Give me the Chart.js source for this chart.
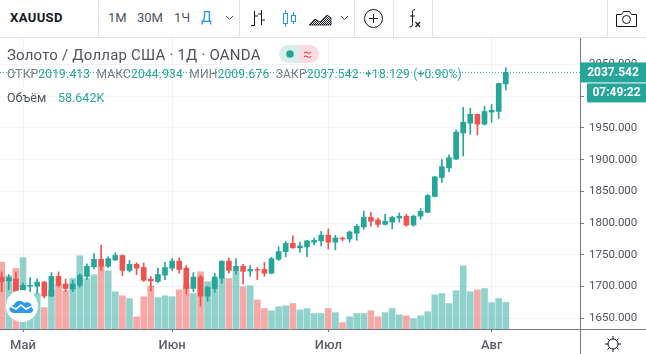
<!DOCTYPE html>
<html>
<head>
<meta charset="utf-8">
<script src="https://cdn.jsdelivr.net/npm/chart.js@4"></script>
<style>
html, body { margin: 0; padding: 0; background: #fff; overflow: hidden; }
#wrap { position: relative; width: 646px; height: 354px; font-family: Roboto, sans-serif; color: #50535e; }
#chart { position: absolute; left: 0; top: 0; }
#top { position: absolute; left: 0; top: 0; width: 646px; height: 37px; border-bottom: 1px solid #e0e3eb; background: #fff; }
.sep { position: absolute; top: 0; width: 1px; height: 37px; background: #e0e3eb; }
.t { position: absolute; white-space: pre; }
#top svg, #wrap > svg { position: absolute; }
.g { color: #787b86; }
.v { color: #26a69a; }
</style>
</head>
<body>
<div id="wrap">
  <canvas id="chart" width="646" height="354"></canvas>

  <div id="top">
    <div class="t" style="left:10px;top:10px;font-size:13px;font-weight:700;color:#131722;letter-spacing:.4px">XAUUSD</div>
    <div class="sep" style="left:98px"></div>
    <div class="t" style="left:108px;top:10px;font-size:13px">1М</div>
    <div class="t" style="left:137px;top:10px;font-size:13px">30М</div>
    <div class="t" style="left:174px;top:10px;font-size:13px">1Ч</div>
    <div class="t" style="left:201px;top:9px;font-size:14px;color:#2196f3">Д</div>
    <svg style="left:225px;top:15px" width="9" height="6"><path d="M1 1l3.5 3.5L8 1" fill="none" stroke="#50535e"/></svg>
    <div class="sep" style="left:239px"></div>
    <svg style="left:249px;top:9px" width="18" height="19"><path d="M5.5 2v15M2 16.500h3.500M5.500 7H9M12.500 1v15M9 5h3.500M12.500 11H16" fill="none" stroke="#131722"/></svg>
    <svg style="left:280px;top:9px" width="18" height="19"><path d="M5.500 1v3M5.500 15v3M13.500 3v3M13.500 12v3" stroke="#2196f3"/><rect x="3.500" y="4.500" width="4" height="10" fill="none" stroke="#2196f3"/><rect x="11.500" y="6.500" width="4" height="6" fill="none" stroke="#2196f3"/></svg>
    <svg style="left:308px;top:12px" width="24" height="14">
      <defs><pattern id="hatch" width="2" height="2" patternUnits="userSpaceOnUse"><rect width="1" height="1" fill="#131722"/><rect x="1" y="1" width="1" height="1" fill="#131722"/></pattern></defs>
      <path d="M1 13l6-6 5 3 7-7 4 3v7z" fill="url(#hatch)" stroke="#131722" stroke-width=".8"/>
    </svg>
    <svg style="left:340px;top:15px" width="9" height="6"><path d="M1 1l3.500 3.500L8 1" fill="none" stroke="#50535e"/></svg>
    <div class="sep" style="left:354px"></div>
    <svg style="left:363px;top:8px" width="21" height="21"><circle cx="10.500" cy="10.500" r="9" fill="none" stroke="#131722"/><path d="M10.500 6v9M6 10.500h9" stroke="#131722"/></svg>
    <div class="sep" style="left:393px"></div>
    <svg style="left:405px;top:8px" width="19" height="21"><path d="M10 1.500c-2.500 0-2.500 2-2.500 4v10c0 2-.5 3.500-3 3.500M5 8h5" fill="none" stroke="#131722"/><path d="M10.500 14l4.500 5M15 14l-4.500 5" stroke="#131722" stroke-width="1.200"/></svg>
    <div class="sep" style="left:432px"></div>
    <div class="sep" style="left:607px"></div>
    <svg style="left:615px;top:9px" width="23" height="19"><path d="M1.500 5.500h5l2-3h6l2 3h5v12h-20z" fill="none" stroke="#131722" stroke-linejoin="round"/><circle cx="11.500" cy="10.500" r="4" fill="none" stroke="#131722"/></svg>
  </div>

  <div class="t" style="left:7px;top:46px;font-size:15px;letter-spacing:.2px">Золото / Доллар США · 1Д · OANDA</div>
  <svg style="left:279px;top:45px" width="40" height="18">
    <path d="M9 0h11v18H9a9 9 0 0 1 0-18z" fill="#d7eeeb"/><path d="M20 0h11a9 9 0 0 1 0 18H20z" fill="#fbdbe4"/>
    <circle cx="11" cy="9" r="3.800" fill="#26a69a"/>
    <path d="M25 8c1.500-2 3-.5 4 0s2.500 0 3-1M25 12c1.500-2 3-.5 4 0s2.500 0 3-1" fill="none" stroke="#ef5350" stroke-width="1.200"/>
  </svg>
  <div class="t" style="left:7px;top:67px;font-size:12px;letter-spacing:.19px"><span class="g">ОТКР</span><span class="v">2019.413</span><span class="g">  МАКС</span><span class="v">2044.934</span><span class="g">  МИН</span><span class="v">2009.676</span><span class="g">  ЗАКР</span><span class="v">2037.542  +18.129 (+0.90%)</span></div>
  <div class="t" style="left:7px;top:90px;font-size:12.5px"><span>Объём</span></div>
  <div class="t v" style="left:58px;top:90px;font-size:12.5px">58.642K</div>

  <svg style="left:5px;top:289px" width="34" height="34">
    <circle cx="17" cy="17" r="16" fill="#fff"/>
    <path d="M6 23c-3-3-1-7 3-7 1-4 7-6 10-2 4-2 9 1 8 5 2 1 1 5-2 5H8z" fill="#2e9be6"/>
    <path d="M5 17l6 3 5-4 5 4 6-3" fill="none" stroke="#fff" stroke-width="1.600"/>
  </svg>
  <svg style="left:604px;top:335px" width="18" height="18">
    <circle cx="9" cy="9" r="5" fill="none" stroke="#131722"/>
    <path d="M9 1v3M9 14v3M1 9h3M14 9h3M3.500 3.500l2 2M12.500 12.500l2 2M3.500 14.500l2-2M12.500 5.500l2-2" stroke="#131722"/>
  </svg>
</div>

<script>
'use strict';

var opens = [1715,1709,1712,1694,1700.5,1700.5,1707,1685,1716,1704,1696,1702,1716,1731,1743,1732,1742,1749,1725.5,1735,
    1730,1711.5,1708,1718,1729,1740,1729,1697,1715,1685,1697,1713,1740,1725.5,1732,1724.5,1727,1727,1721,1743,
    1755,1768,1761,1762.5,1770,1772,1781,1770,1776.5,1775,1784,1794,1809,1805,1798,1801.5,1808,1811,1797,1811,
    1817,1842,1872,1887,1901,1942,1957.5,1971.5,1956,1975,1976,2019.413];
var closes = [1708,1714,1693,1702,1702,1707,1685,1716,1702,1697,1704,1718,1732,1743,1732,1744,1749,1725.5,1735,1729,
    1710,1709,1719,1730,1740,1727,1697,1715,1685,1699,1715,1740,1725.5,1732,1724,1727,1726,1721,1744,1755,
    1768,1761,1764,1772,1773,1781,1770,1776.5,1775,1786,1795,1809,1803,1798,1803,1809,1811,1797,1811,1818.5,
    1843.5,1873,1889,1903,1943.5,1959,1971.5,1956,1976,1978,2020,2037.542];
var highs = [1723,1719,1722,1706,1714,1712,1708,1722,1723,1712,1710,1720,1736,1752,1765,1747,1753,1749.5,1741,1737.5,
    1737,1716,1729,1738,1744,1745,1733,1722,1718,1700.5,1721,1740.5,1745,1744,1735,1733,1730,1738,1746,1763,
    1771,1780,1770,1773,1776.5,1787,1791,1781,1778,1787.5,1798,1819,1817,1808,1814,1811,1816,1814,1812.5,1823,
    1845,1873.5,1900,1907.5,1946.5,1982.5,1981,1972,1984,1987,2020.5,2044.934];
var lows = [1692,1695,1692,1692,1692,1689,1682,1684,1700,1692,1692,1699,1711,1728,1725,1730,1741,1717,1723,1719,
    1708,1693,1706,1711,1725.5,1721,1688,1692,1669,1677,1691,1705,1721,1719,1704,1716,1711,1716,1720,1741,
    1747,1760.5,1754,1747,1765.5,1764,1759,1758,1772,1770,1773,1790.5,1795,1794,1797,1791,1801.5,1795,1795,1806,
    1816.5,1841.5,1864,1881,1900,1906,1940,1939,1954.5,1959,1965,2009.676];
// thousands
var volumes = [147,117,133,157,68,78,47,86,97,84,111,161,111,119,140,128,82,73,67,27,
    71,95,69,73,71,86,97,78,126,104,108,111,111,130,93,95,64,45,40,49,
    51,56,42,45,34,34,45,36,14,27,34,34,40,27,36,45,31,29,23,29,
    38,75,78,56,84,139,82,86,89,58,67,58.642];

var priceTicks = [1650,1700,1750,1800,1850,1900,1950,2000,2050];
var monthTicks = [3,24,46,69];
var monthNames = ['Май','Июн','Июл','Авг'];
var lastPrice = 2037.542;
var lastPriceLabel = '2037.542';
var countdownLabel = '07:49:22';

var UP = '#26a69a', DOWN = '#ef5350';
var UP_VOL = 'rgba(38,166,154,.5)', DOWN_VOL = 'rgba(239,83,80,.5)';
var AXIS = '#787b86', GRID = '#f0f3fa';
var XMIN = -0.24, XMAX = 81.45;

var isUp = opens.map(function (o, i) { return closes[i] >= o; });
var candleColors = isUp.map(function (u) { return u ? UP : DOWN; });
var volumeColors = isUp.map(function (u) { return u ? UP_VOL : DOWN_VOL; });

var priceTags = {
    id: 'priceTags',
    afterDraw: function (chart) {
        var c = chart.ctx, y = chart.scales.y.getPixelForValue(lastPrice);
        var right = chart.chartArea.right;
        c.save();
        // axis lines run on past the chart area
        c.strokeStyle = AXIS;
        c.beginPath();
        c.moveTo(right + 0.5, chart.chartArea.bottom);
        c.lineTo(right + 0.5, 354);
        c.moveTo(right, chart.chartArea.bottom + 0.5);
        c.lineTo(646, chart.chartArea.bottom + 0.5);
        c.stroke();
        c.fillStyle = UP;
        c.fillRect(right, y - 10, 66, 20);
        c.fillRect(right + 7, y + 11, 59, 19);
        c.fillStyle = '#fff';
        c.font = '700 12px Roboto';
        c.textAlign = 'center';
        c.textBaseline = 'middle';
        c.fillText(lastPriceLabel, right + 33, y + 0.5);
        c.fillText(countdownLabel, right + 36.5, y + 21);
        c.restore();
    }
};

var ctx = document.getElementById('chart').getContext('2d');
var chart = new Chart(ctx, {
    type: 'bar',
    data: {
        datasets: [{
            label: 'Объём',
            yAxisID: 'vol',
            order: 4,
            grouped: false,
            barThickness: 6,
            backgroundColor: volumeColors,
            data: volumes.map(function (v, i) { return { x: i, y: v }; })
        }, {
            label: 'wick',
            order: 3,
            grouped: false,
            barThickness: 1,
            backgroundColor: candleColors,
            data: lows.map(function (l, i) { return { x: i, y: [l, highs[i]] }; })
        }, {
            label: 'body',
            order: 2,
            grouped: false,
            barThickness: 5,
            backgroundColor: candleColors,
            data: opens.map(function (o, i) { return { x: i, y: [o, closes[i]] }; })
        }, {
            type: 'line',
            label: 'last',
            order: 1,
            borderColor: UP,
            borderWidth: 1,
            borderDash: [1, 2],
            pointRadius: 0,
            data: [{ x: XMIN, y: lastPrice }, { x: XMAX, y: lastPrice }]
        }]
    },
    options: {
        responsive: false,
        animation: false,
        layout: { padding: { top: 38 } },
        plugins: { legend: { display: false }, tooltip: { enabled: false } },
        scales: {
            x: {
                type: 'linear',
                min: XMIN,
                max: XMAX,
                offset: false,
                afterBuildTicks: function (scale) {
                    scale.ticks = monthTicks.map(function (v) { return { value: v }; });
                },
                afterFit: function (scale) { scale.height = 25; },
                border: { color: AXIS },
                grid: { color: GRID, tickColor: AXIS, tickLength: 3, offset: false },
                ticks: {
                    autoSkip: false,
                    maxRotation: 0,
                    padding: 6,
                    color: '#5d606b',
                    font: { family: 'Roboto', size: 13, weight: '500' },
                    callback: function (v) { return monthNames[monthTicks.indexOf(v)]; }
                }
            },
            y: {
                position: 'right',
                min: 1633.1,
                max: 2091.8,
                afterBuildTicks: function (scale) {
                    scale.ticks = priceTicks.map(function (v) { return { value: v }; });
                },
                afterFit: function (scale) { scale.width = 66; },
                border: { color: AXIS },
                grid: { color: GRID, tickColor: AXIS, tickLength: 4 },
                ticks: {
                    padding: 5,
                    color: '#50535e',
                    font: { family: 'Roboto', size: 11.5 },
                    callback: function (v) { return v.toFixed(3); }
                }
            },
            vol: {
                display: false,
                min: 0,
                max: 640
            }
        }
    },
    plugins: [priceTags]
});
</script>
</body>
</html>
